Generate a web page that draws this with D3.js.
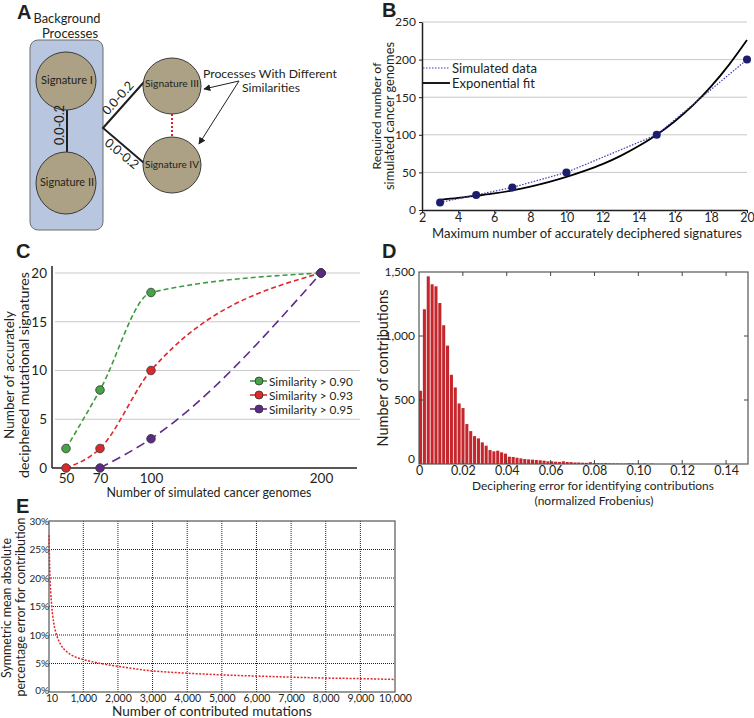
<!DOCTYPE html>
<html><head><meta charset="utf-8">
<script src="https://cdn.jsdelivr.net/npm/d3@7"></script>
<style>body{margin:0;background:#fff;} svg{display:block;font-family:Lato,'Open Sans',sans-serif;}</style>
</head><body><svg id="c" width="754" height="718"></svg>
<script>
// ---------- DATA ----------
// Panel A
const aSignatures = ["Signature I","Signature II","Signature III","Signature IV"];
const aEdgeLabel = "0.0-0.2";
// Panel B
const bX = [3,5,7,10,15,20];
const bY = [10,20,30,50,100,200];
const bFitX = [3,4,5,6,7,8,9,10,11,12,13,14,15,16,17,18,19,20];
const bFitY = [13.5,16,19,22,26,31,37,44,52,61,72,85,100,118,139,164,193,226];
const bXTicks = [2,4,6,8,10,12,14,16,18,20];
const bYTicks = [0,50,100,150,200,250];
const bLegend = ["Simulated data","Exponential fit"];
// Panel C
const cX = [50,70,100,200];
const cGreen = [2,8,18,20];
const cRed = [0,2,10,20];
const cPurpleX = [70,100,200];
const cPurple = [0,3,20];
const cXTicks = [50,70,100,200];
const cYTicks = [0,5,10,15,20];
const cLegend = ["Similarity > 0.90","Similarity > 0.93","Similarity > 0.95"];
// Panel D
const dBinWidth = 0.00176;
const dCounts = [572,1209,1466,1404,1388,1258,1084,925,697,598,473,437,312,257,218,200,169,143,109,99,
  104,91,81,57,55,49,44,39,36,34,31,29,26,21,21,18,16,21,16,15,12,12,10,9,14,8,7,6,8,5,
  4,4,3,3,6,5,3,2,4,1,3];
const dXTicks = [0,0.02,0.04,0.06,0.08,0.10,0.12,0.14];
const dXLabels = ["0","0.02","0.04","0.06","0.08","0.10","0.12","0.14"];
const dYTicks = [0,500,1000,1500];
// Panel E
const eN = [10,25,40,60,90,150,230,350,500,750,1000,1500,2000,3000,4000,5000,6000,7000,8000,9000,10000];
const eErr = [27.5,23,20,17.5,15,12,10,8.3,7.2,6.2,5.7,5.0,4.5,3.7,3.3,3.0,2.8,2.6,2.45,2.35,2.2];
const eXTicks = [10,1000,2000,3000,4000,5000,6000,7000,8000,9000,10000];
const eYTicks = [0,5,10,15,20,25,30];

// ---------- HELPERS ----------
const svg = d3.select("#c");
const INK = "#231f20";
function fit(t, w){ const L=t.node().getComputedTextLength(); const fs=parseFloat(t.attr("font-size")); if(L>0) t.attr("font-size",(fs*w/L).toFixed(2)); return t; }
function txt(g,x,y,s,o={}){
  const t=g.append("text").attr("x",x).attr("y",y).text(s)
    .attr("font-size",o.fs||12).attr("text-anchor",o.anchor||"middle").attr("fill",o.fill||INK);
  if(o.bold) t.attr("font-weight","bold").attr("font-family","'Liberation Sans',Arial,sans-serif");
  if(o.rot!=null) t.attr("transform",`rotate(${o.rot},${x},${y})`);
  if(o.w) fit(t,o.w);
  return t;
}
function styleAxis(g,fs){
  g.selectAll("text").attr("font-size",fs).attr("fill",INK).attr("font-family","Lato,'Open Sans',sans-serif");
  g.selectAll("line").attr("stroke",INK);
  g.select(".domain").attr("stroke",INK);
}

// ---------- PANEL A ----------
const gA = svg.append("g");
txt(gA,17,19,"A",{fs:20,bold:true,anchor:"start"});
txt(gA,67,23,"Background",{fs:13,w:67});
txt(gA,70,38,"Processes",{fs:13});
gA.append("rect").attr("x",30).attr("y",40).attr("width",73).attr("height",190).attr("rx",8)
  .attr("fill","#b8c6df").attr("stroke","#6f6f6f").attr("stroke-width",1);
const ell = [{cx:66,cy:81,rx:30,ry:29},{cx:66,cy:183,rx:30,ry:31},{cx:172,cy:86,rx:29,ry:28},{cx:172,cy:165,rx:29,ry:28}];
gA.append("line").attr("x1",67).attr("x2",67).attr("y1",110).attr("y2",152).attr("stroke",INK).attr("stroke-width",2);
gA.append("path").attr("d","M144,82 L103,128 L144,163").attr("fill","none").attr("stroke",INK).attr("stroke-width",2);
gA.append("line").attr("x1",172).attr("x2",172).attr("y1",114).attr("y2",137).attr("stroke","#e0202a").attr("stroke-width",2).attr("stroke-dasharray","2,2");
gA.selectAll("ellipse").data(ell).join("ellipse")
  .attr("cx",d=>d.cx).attr("cy",d=>d.cy).attr("rx",d=>d.rx).attr("ry",d=>d.ry)
  .attr("fill","#aca184").attr("stroke","#3a3a3a").attr("stroke-width",1);
const sigPos=[[67,84],[67,186],[172,87],[172,168]];
aSignatures.forEach((s,i)=>txt(gA,sigPos[i][0],sigPos[i][1],s,{fs:10.5,w:[52,54,54,54][i]}));
txt(gA,63.5,125,aEdgeLabel,{fs:11,rot:-90,w:40});
txt(gA,121,101,aEdgeLabel,{fs:11,rot:-48,w:40});
txt(gA,119,157,aEdgeLabel,{fs:11,rot:40,w:40});
txt(gA,203,78,"Processes With Different",{fs:12.5,anchor:"start",w:134});
txt(gA,242,92,"Similarities",{fs:12.5,anchor:"start",w:58});
svg.append("defs").append("marker").attr("id","arr").attr("viewBox","0 0 10 10").attr("refX",9).attr("refY",5)
  .attr("markerWidth",7).attr("markerHeight",7).attr("orient","auto-start-reverse")
  .append("path").attr("d","M0,0 L10,5 L0,10 z").attr("fill",INK);
gA.append("line").attr("x1",239).attr("y1",81).attr("x2",204).attr("y2",89).attr("stroke",INK).attr("stroke-width",1).attr("marker-end","url(#arr)");
gA.append("line").attr("x1",239).attr("y1",81).attr("x2",199).attr("y2",144).attr("stroke",INK).attr("stroke-width",1).attr("marker-end","url(#arr)");

// ---------- PANEL B ----------
const gB = svg.append("g");
txt(gB,382,17,"B",{fs:20,bold:true,anchor:"start"});
const bx = d3.scaleLinear().domain([2,20]).range([422,747]);
const by = d3.scaleLinear().domain([0,250]).range([210,22]);
gB.selectAll("line.grid").data(bYTicks.slice(1)).join("line").attr("class","grid")
  .attr("x1",bx(2)).attr("x2",bx(20)).attr("y1",d=>by(d)).attr("y2",d=>by(d)).attr("stroke","#c9c9c9").attr("stroke-width",1);
const bYA = gB.append("g").attr("transform",`translate(${bx(2)},0)`).call(d3.axisLeft(by).tickValues(bYTicks).tickSize(3).tickSizeOuter(0).tickPadding(3));
styleAxis(bYA,12);
const bXA = gB.append("g").attr("transform",`translate(0,${by(0)})`).call(d3.axisBottom(bx).tickValues(bXTicks).tickSize(3).tickSizeOuter(0).tickPadding(0));
styleAxis(bXA,12.5);
bXA.select(".domain").attr("stroke-width",1.5); bYA.select(".domain").attr("stroke-width",1.5);
gB.append("path").datum(bFitX.map((x,i)=>[x,bFitY[i]]))
  .attr("d",d3.line().x(d=>bx(d[0])).y(d=>by(d[1])).curve(d3.curveMonotoneX))
  .attr("fill","none").attr("stroke","#000").attr("stroke-width",1.8);
gB.append("path").datum(bX.map((x,i)=>[x,bY[i]]))
  .attr("d",d3.line().x(d=>bx(d[0])).y(d=>by(d[1])))
  .attr("fill","none").attr("stroke","#3b3bb5").attr("stroke-width",1.2).attr("stroke-dasharray","1.5,1.5");
gB.selectAll("circle").data(bX.map((x,i)=>[x,bY[i]])).join("circle")
  .attr("cx",d=>bx(d[0])).attr("cy",d=>by(d[1])).attr("r",4).attr("fill","#1d1d6e");
gB.append("line").attr("x1",423).attr("x2",450).attr("y1",68).attr("y2",68).attr("stroke","#3b3bb5").attr("stroke-width",1.2).attr("stroke-dasharray","1.5,1.5");
gB.append("line").attr("x1",423).attr("x2",450).attr("y1",83).attr("y2",83).attr("stroke","#000").attr("stroke-width",1.8);
txt(gB,452,72.5,bLegend[0],{fs:13,anchor:"start",w:85});
txt(gB,452,87.5,bLegend[1],{fs:13,anchor:"start",w:83});
txt(gB,587,238,"Maximum number of accurately deciphered signatures",{fs:13,w:310});
txt(gB,381,116,"Required number of",{fs:13,rot:-90,w:107});
txt(gB,394,116,"simulated cancer genomes",{fs:13,rot:-90,w:148});

// ---------- PANEL C ----------
const gC = svg.append("g");
txt(gC,16,258,"C",{fs:20,bold:true,anchor:"start"});
const cx = d3.scaleLinear().domain([50,200]).range([66,321]);
const cy = d3.scaleLinear().domain([0,20]).range([468,273]);
gC.selectAll("line.grid").data(cYTicks.slice(1)).join("line").attr("class","grid")
  .attr("x1",55).attr("x2",360).attr("y1",d=>cy(d)).attr("y2",d=>cy(d)).attr("stroke","#c9c9c9");
const cYA = gC.append("g").attr("transform","translate(52,0)").call(d3.axisLeft(cy).tickValues(cYTicks).tickSize(0).tickPadding(5));
styleAxis(cYA,13.5); cYA.select(".domain").remove();
gC.append("line").attr("x1",52).attr("x2",52).attr("y1",266).attr("y2",468).attr("stroke",INK).attr("stroke-width",1.5);
gC.append("line").attr("x1",52).attr("x2",357).attr("y1",468).attr("y2",468).attr("stroke",INK).attr("stroke-width",1.5);
const cXA = gC.append("g").attr("transform","translate(0,468)").call(d3.axisBottom(cx).tickValues(cXTicks).tickSize(0).tickPadding(5));
styleAxis(cXA,13.5); cXA.select(".domain").remove();
const cSeries = [
  {x:cX,y:cGreen,line:"#3d9a3d",fill:"#46a346",dash:"5,3",curve:d3.curveMonotoneX},
  {x:cX,y:cRed,line:"#e0262b",fill:"#d92b2b",dash:"5,3",curve:d3.curveMonotoneX},
  {x:cPurpleX,y:cPurple,line:"#5f2a8c",fill:"#5a2a84",dash:"9,5",curve:d3.curveMonotoneX}
];
cSeries.forEach(s=>{
  const pts = s.x.map((x,i)=>[x,s.y[i]]);
  gC.append("path").datum(pts).attr("d",d3.line().x(d=>cx(d[0])).y(d=>cy(d[1])).curve(s.curve))
    .attr("fill","none").attr("stroke",s.line).attr("stroke-width",1.6).attr("stroke-dasharray",s.dash);
});
cSeries.forEach(s=>{
  const pts = s.x.map((x,i)=>[x,s.y[i]]);
  gC.selectAll(null).data(pts).join("circle").attr("cx",d=>cx(d[0])).attr("cy",d=>cy(d[1])).attr("r",4.3)
    .attr("fill",s.fill).attr("stroke","#333").attr("stroke-width",0.8);
});
cLegend.forEach((l,i)=>{
  const y = 381 + i*14;
  gC.append("line").attr("x1",250).attr("x2",267).attr("y1",y).attr("y2",y).attr("stroke",cSeries[i].line).attr("stroke-width",1.6);
  gC.append("circle").attr("cx",259).attr("cy",y).attr("r",4).attr("fill",cSeries[i].fill).attr("stroke","#333").attr("stroke-width",0.8);
  txt(gC,269,y+4.5,l,{fs:12.5,anchor:"start",w:84});
});
txt(gC,209,497,"Number of simulated cancer genomes",{fs:13,w:205});
txt(gC,14,375,"Number of accurately",{fs:13,rot:-90,w:128});
txt(gC,29,375,"deciphered mutational signatures",{fs:13,rot:-90,w:206});

// ---------- PANEL D ----------
const gD = svg.append("g");
txt(gD,382,258,"D",{fs:20,bold:true,anchor:"start"});
const dx = d3.scaleLinear().domain([0,0.15]).range([419,748]);
const dy = d3.scaleLinear().domain([0,1500]).range([464,272]);
const bw = dx(dBinWidth)-dx(0);
gD.selectAll("rect.bar").data(dCounts).join("rect").attr("class","bar")
  .attr("x",(d,i)=>dx(i*dBinWidth)).attr("width",bw-0.8)
  .attr("y",d=>dy(d)).attr("height",d=>dy(0)-dy(d)).attr("fill","#c4262c");
gD.append("rect").attr("x",419).attr("y",272).attr("width",329).attr("height",192).attr("fill","none").attr("stroke","#555").attr("stroke-width",1.2);
const dYA = gD.append("g").attr("transform","translate(419,0)").call(d3.axisLeft(dy).tickValues(dYTicks).tickFormat(d3.format(",")).tickSize(0).tickPadding(4));
styleAxis(dYA,12); dYA.select(".domain").remove();
dYA.selectAll(".tick").filter(d=>d===0).select("text").attr("dy","-0.1em");
const dXA = gD.append("g").attr("transform","translate(0,464)").call(d3.axisBottom(dx).tickValues(dXTicks).tickFormat((d,i)=>dXLabels[i]).tickSize(0).tickPadding(2));
styleAxis(dXA,12.5); dXA.select(".domain").remove();
gD.selectAll("line.tt").data(dXTicks.slice(1)).join("line").attr("class","tt")
  .attr("x1",d=>dx(d)).attr("x2",d=>dx(d)).attr("y1",272).attr("y2",276).attr("stroke","#444");
gD.selectAll("line.tb").data(dXTicks.slice(1)).join("line").attr("class","tb")
  .attr("x1",d=>dx(d)).attr("x2",d=>dx(d)).attr("y1",464).attr("y2",460).attr("stroke","#444");
gD.selectAll("line.tr").data(dYTicks.slice(1,3)).join("line").attr("class","tr")
  .attr("x1",748).attr("x2",744).attr("y1",d=>dy(d)).attr("y2",d=>dy(d)).attr("stroke","#444");
gD.selectAll("line.tl").data(dYTicks.slice(1,3)).join("line").attr("class","tl")
  .attr("x1",419).attr("x2",423).attr("y1",d=>dy(d)).attr("y2",d=>dy(d)).attr("stroke","#444");
txt(gD,593,490,"Deciphering error for identifying contributions",{fs:12.5,w:242});
txt(gD,594,505,"(normalized Frobenius)",{fs:12.5,w:119});
txt(gD,388,368,"Number of contributions",{fs:13,rot:-90,w:157});

// ---------- PANEL E ----------
const gE = svg.append("g");
txt(gE,16,513,"E",{fs:20,bold:true,anchor:"start"});
const ex = d3.scaleLinear().domain([10,10000]).range([49,395]);
const ey = d3.scaleLinear().domain([0,30]).range([692,521]);
gE.selectAll("line.gv").data(eXTicks.slice(1,-1)).join("line").attr("class","gv")
  .attr("x1",d=>ex(d)).attr("x2",d=>ex(d)).attr("y1",521).attr("y2",692).attr("stroke","#222").attr("stroke-dasharray","1,1");
gE.selectAll("line.gh").data(eYTicks.slice(1,-1)).join("line").attr("class","gh")
  .attr("x1",49).attr("x2",395).attr("y1",d=>ey(d)).attr("y2",d=>ey(d)).attr("stroke","#222").attr("stroke-dasharray","1,1");
gE.append("rect").attr("x",49).attr("y",521).attr("width",346).attr("height",171).attr("fill","none").attr("stroke","#555").attr("stroke-width",1.2);
const eYA = gE.append("g").attr("transform","translate(50,0)").call(d3.axisLeft(ey).tickValues(eYTicks).tickFormat(d=>d+"%").tickSize(0).tickPadding(1));
styleAxis(eYA,10); eYA.select(".domain").remove();
eYA.selectAll(".tick").filter(d=>d===0).select("text").attr("dy","0.1em");
const eXA = gE.append("g").attr("transform","translate(0,692)").call(d3.axisBottom(ex).tickValues(eXTicks).tickFormat(d3.format(",")).tickSize(0).tickPadding(3));
styleAxis(eXA,10.5); eXA.select(".domain").remove();
eXA.selectAll(".tick").filter(d=>d===10).select("text").attr("dx","0.25em");
gE.append("path").datum(eN.map((n,i)=>[n,eErr[i]]))
  .attr("d",d3.line().x(d=>ex(d[0])).y(d=>ey(d[1])).curve(d3.curveMonotoneX))
  .attr("fill","none").attr("stroke","#e0262b").attr("stroke-width",1.5).attr("stroke-dasharray","2,1.5");
txt(gE,212,716,"Number of contributed mutations",{fs:14,w:200});
txt(gE,11,608,"Symmetric mean absolute",{fs:12.5,rot:-90,w:140});
txt(gE,25,607,"percentage error for contribution",{fs:12.5,rot:-90,w:179});
</script></body></html>
